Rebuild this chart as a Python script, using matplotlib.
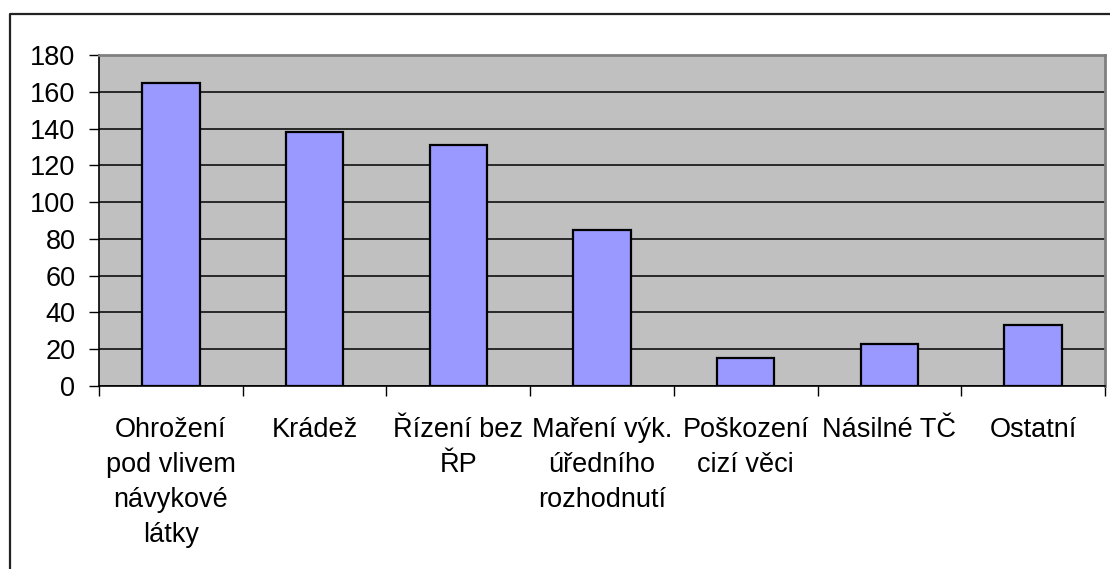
import matplotlib
matplotlib.use('Agg')
import matplotlib.pyplot as plt
from matplotlib.lines import Line2D

plt.rcParams['font.family'] = ['Liberation Sans', 'DejaVu Sans']

# data
categories = [
    "Ohrožení\npod vlivem\nnávykové\nlátky",
    "Krádež",
    "Řízení bez\nŘP",
    "Maření výk.\núředního\nrozhodnutí",
    "Poškození\ncizí věci",
    "Násilné TČ",
    "Ostatní",
]
counts = [165, 138, 131, 85, 15, 23, 33]
y_ticks = list(range(0, 181, 20))

W, H = 1110, 569
fig = plt.figure(figsize=(W / 100, H / 100), dpi=100)
fig.patch.set_facecolor('white')

# plot area in pixel terms: x 99..1105, y 55..386
ax = fig.add_axes([99 / W, 1 - 386 / H, (1105 - 99) / W, (386 - 55) / H])
ax.set_facecolor('#C0C0C0')

x = list(range(len(categories)))
ax.bar(x, counts, width=0.4, color='#9999FF', edgecolor='black', linewidth=1.6, zorder=3)

ax.set_xlim(-0.5, len(categories) - 0.5)
ax.set_ylim(0, 180)
ax.set_yticks(y_ticks)
ax.yaxis.grid(True, color='black', linewidth=1.1, zorder=1)
ax.set_axisbelow(True)

# category boundaries get the tick marks, labels sit in the middle
ax.set_xticks([i - 0.5 for i in range(len(categories) + 1)])
ax.set_xticklabels([])
ax.set_xticks(x, minor=True)
ax.set_xticklabels(categories, minor=True, fontsize=19.5, linespacing=1.45, va='top', ha='center')
ax.tick_params(axis='x', which='major', length=7, width=1, color='black', direction='out')
ax.tick_params(axis='x', which='minor', length=0, pad=22)
ax.tick_params(axis='y', length=7, width=1, color='black', labelsize=19.5, pad=10)

for side in ['left', 'bottom']:
    ax.spines[side].set_color('black')
    ax.spines[side].set_linewidth(1.2)
for side in ['top', 'right']:
    ax.spines[side].set_color('#808080')
    ax.spines[side].set_linewidth(2)

# chart frame, only left and top edges visible in the crop
fig.add_artist(Line2D([9.5 / W, 9.5 / W, 1], [0, 1 - 13.5 / H, 1 - 13.5 / H],
                      transform=fig.transFigure, color='#222222', linewidth=1.6))

fig.savefig('out.png', dpi=100)
